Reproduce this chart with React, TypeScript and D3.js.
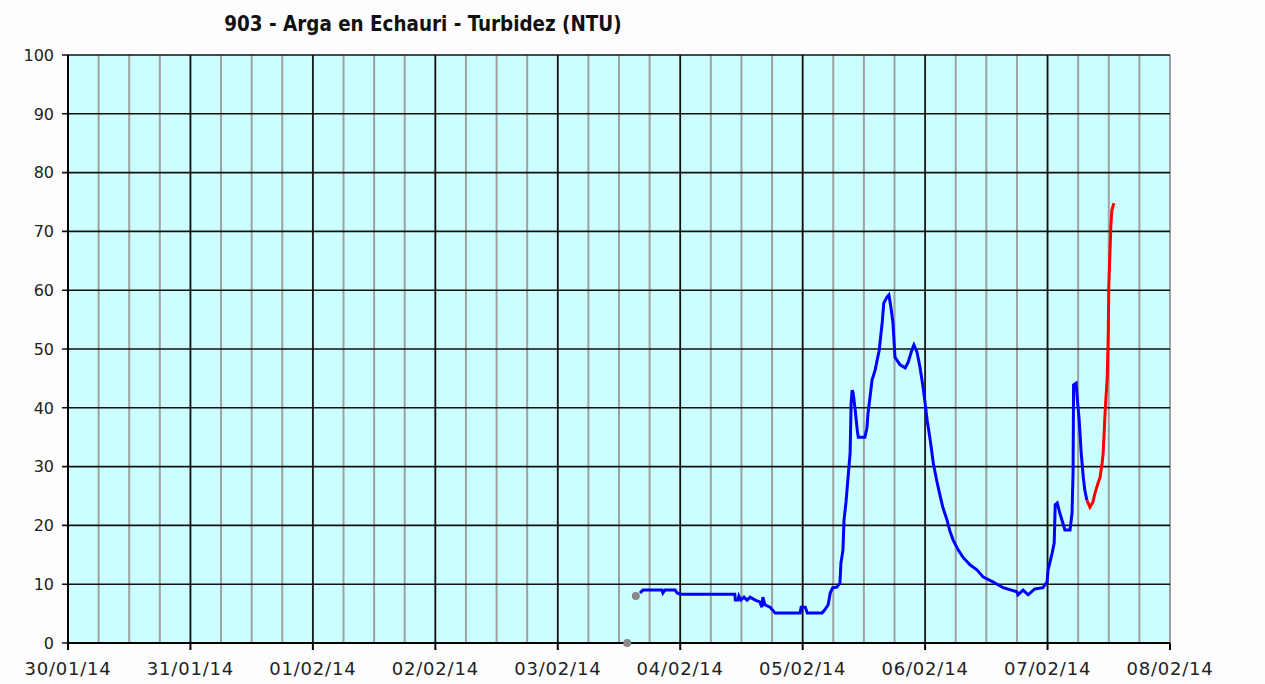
import React from "react";
import * as d3 from "d3";

const title = "903 - Arga en Echauri - Turbidez (NTU)";
const startDate = new Date(2014, 0, 30, 0, 0);
const endDate = new Date(2014, 1, 8, 0, 0);
const yTicks = [0, 10, 20, 30, 40, 50, 60, 70, 80, 90, 100];

// hours after 30/01/14 00:00
const blueHours = [
  112.1, 112.7, 116.4, 116.6, 117.0, 119.0, 119.4, 120.0, 130.7, 130.8, 131.3, 131.5, 131.9, 132.5,
  133.1, 133.7, 134.7, 135.6, 136.0, 136.2, 136.6, 137.6, 138.6, 143.5, 143.7, 144.5, 144.9, 147.8,
  148.3, 149.0, 149.4, 149.9, 150.7, 151.3, 151.5, 151.9, 152.1, 152.5, 152.9, 153.3, 153.5, 153.7,
  153.9, 154.3, 154.7, 154.9, 156.2, 156.6, 156.8, 157.2, 157.6, 158.2, 158.6, 159.0, 159.6, 159.9,
  160.5, 160.9, 161.3, 161.7, 162.1, 163.1, 164.1, 164.7, 165.4, 165.8, 166.4, 167.0, 167.6, 168.0,
  168.4, 169.0, 169.6, 170.3, 170.9, 171.5, 172.3, 172.9, 173.5, 174.5, 175.4, 176.8, 178.2, 179.4,
  181.3, 183.3, 186.0, 186.2, 187.2, 188.2, 189.5, 191.1, 191.9, 192.1, 192.9, 193.3, 193.5, 193.9,
  194.4, 195.0, 195.4, 196.4, 196.8, 197.0, 197.1, 197.6, 197.8, 198.2, 198.6, 199.0, 199.3, 199.7,
];
const blueValues = [
  8.5, 9.0, 9.0, 8.5, 9.0, 9.0, 8.5, 8.3, 8.3, 7.3, 7.3, 8.0, 7.3, 7.8,
  7.3, 7.8, 7.3, 7.0, 6.1, 7.8, 6.5, 6.1, 5.1, 5.1, 6.1, 6.1, 5.1, 5.1,
  5.6, 6.5, 8.5, 9.4, 9.5, 10.2, 13.6, 15.8, 20.9, 24.0, 28.2, 32.3, 40.8, 43.0,
  42.5, 39.6, 36.2, 35.0, 35.0, 36.6, 39.0, 41.8, 44.7, 46.4, 48.1, 49.8, 54.6, 57.8,
  58.8, 59.2, 57.1, 54.4, 48.6, 47.3, 46.8, 47.8, 49.8, 50.7, 49.5, 46.9, 43.5, 40.8,
  37.9, 34.5, 30.6, 27.5, 25.2, 23.0, 20.9, 18.9, 17.5, 15.8, 14.6, 13.3, 12.4, 11.2,
  10.4, 9.4, 8.7, 8.2, 9.0, 8.2, 9.2, 9.4, 10.4, 12.4, 15.3, 17.0, 23.5, 23.8,
  22.1, 20.4, 19.2, 19.2, 22.1, 28.9, 43.9, 44.2, 41.8, 37.9, 32.3, 28.2, 26.0, 24.3,
];
const redHours = [199.7, 200.3, 200.9, 201.3, 201.9, 202.3, 202.7, 202.9, 203.3, 203.7, 203.9, 204.0, 204.4, 204.6, 205.0];
const redValues = [24.3, 23.1, 24.0, 25.5, 27.2, 28.2, 30.6, 32.3, 39.6, 45.2, 52.7, 60.5, 70.7, 73.6, 74.8];
const grayHours = [109.6, 111.3];
const grayValues = [0, 8.0];

const W = 1265;
const H = 684;
const M = { left: 68, right: 1170, top: 55, bottom: 643 };

const toDate = (h: number) => new Date(startDate.getTime() + h * 3600 * 1000);

export default function App() {
  const x = d3.scaleTime().domain([startDate, endDate]).range([M.left, M.right]);
  const y = d3.scaleLinear().domain([0, 100]).range([M.bottom, M.top]);
  const dayTicks = d3.timeDay.range(startDate, d3.timeDay.offset(endDate, 1));
  const minorTicks = d3.timeHour.every(6)!.range(startDate, d3.timeHour.offset(endDate, 1));
  const fmt = d3.timeFormat("%d/%m/%y");

  const line = d3
    .line<[number, number]>()
    .x((d) => x(toDate(d[0])))
    .y((d) => y(d[1]));
  const blue = blueHours.map((h, i) => [h, blueValues[i]] as [number, number]);
  const red = redHours.map((h, i) => [h, redValues[i]] as [number, number]);

  const font = "Verdana, 'DejaVu Sans', sans-serif";

  return (
    <svg
      width={W}
      height={H}
      style={{ position: "absolute", left: 0, top: 0, background: "#fff" }}
    >
      <rect x={0} y={0} width={W} height={H} fill="#fdfdfd" />
      <text
        x={423}
        y={31}
        textAnchor="middle"
        fontFamily="'DejaVu Sans Condensed', 'DejaVu Sans', sans-serif"
        fontWeight="bold"
        fontSize={20.4}
        fill="#111"
      >
        {title}
      </text>
      <rect
        x={M.left}
        y={M.top}
        width={M.right - M.left}
        height={M.bottom - M.top}
        fill="#ccffff"
      />
      {minorTicks.map((t, i) => (
        <line
          key={"mv" + i}
          x1={x(t)}
          x2={x(t)}
          y1={M.top}
          y2={M.bottom}
          stroke="#a0a0a0"
          strokeWidth={2}
        />
      ))}
      {dayTicks.map((t, i) => (
        <line
          key={"dv" + i}
          x1={x(t)}
          x2={x(t)}
          y1={M.top}
          y2={M.bottom}
          stroke={i === dayTicks.length - 1 ? "#a0a0a0" : "#111"}
          strokeWidth={i === dayTicks.length - 1 ? 2 : 1.6}
        />
      ))}
      {yTicks.map((v) => (
        <line
          key={"hy" + v}
          x1={M.left - 6}
          x2={M.right}
          y1={y(v)}
          y2={y(v)}
          stroke="#111"
          strokeWidth={1.6}
        />
      ))}
      <line x1={M.left} x2={M.left} y1={M.top} y2={M.bottom + 7} stroke="#000" strokeWidth={2} />
      <line x1={M.left} x2={M.right} y1={M.bottom} y2={M.bottom} stroke="#000" strokeWidth={2} />
      {dayTicks.map((t, i) => (
        <line
          key={"xt" + i}
          x1={x(t)}
          x2={x(t)}
          y1={M.bottom}
          y2={M.bottom + 7}
          stroke="#000"
          strokeWidth={2}
        />
      ))}
      {yTicks.map((v) => (
        <text
          key={"yl" + v}
          x={54}
          y={y(v)}
          dy="0.36em"
          textAnchor="end"
          fontFamily={font}
          fontSize={16}
          fill="#222"
        >
          {v}
        </text>
      ))}
      {dayTicks.map((t, i) => (
        <text
          key={"xl" + i}
          x={x(t)}
          y={675}
          textAnchor="middle"
          fontFamily={font}
          fontSize={18}
          letterSpacing={0.8}
          fill="#222"
        >
          {fmt(t)}
        </text>
      ))}
      <path d={line(blue) || ""} fill="none" stroke="#0000ff" strokeWidth={3} strokeLinejoin="miter" />
      <path d={line(red) || ""} fill="none" stroke="#ff0000" strokeWidth={3} strokeLinejoin="miter" />
      {grayHours.map((h, i) => (
        <circle key={"g" + i} cx={x(toDate(h))} cy={y(grayValues[i])} r={4} fill="#888" />
      ))}
    </svg>
  );
}
